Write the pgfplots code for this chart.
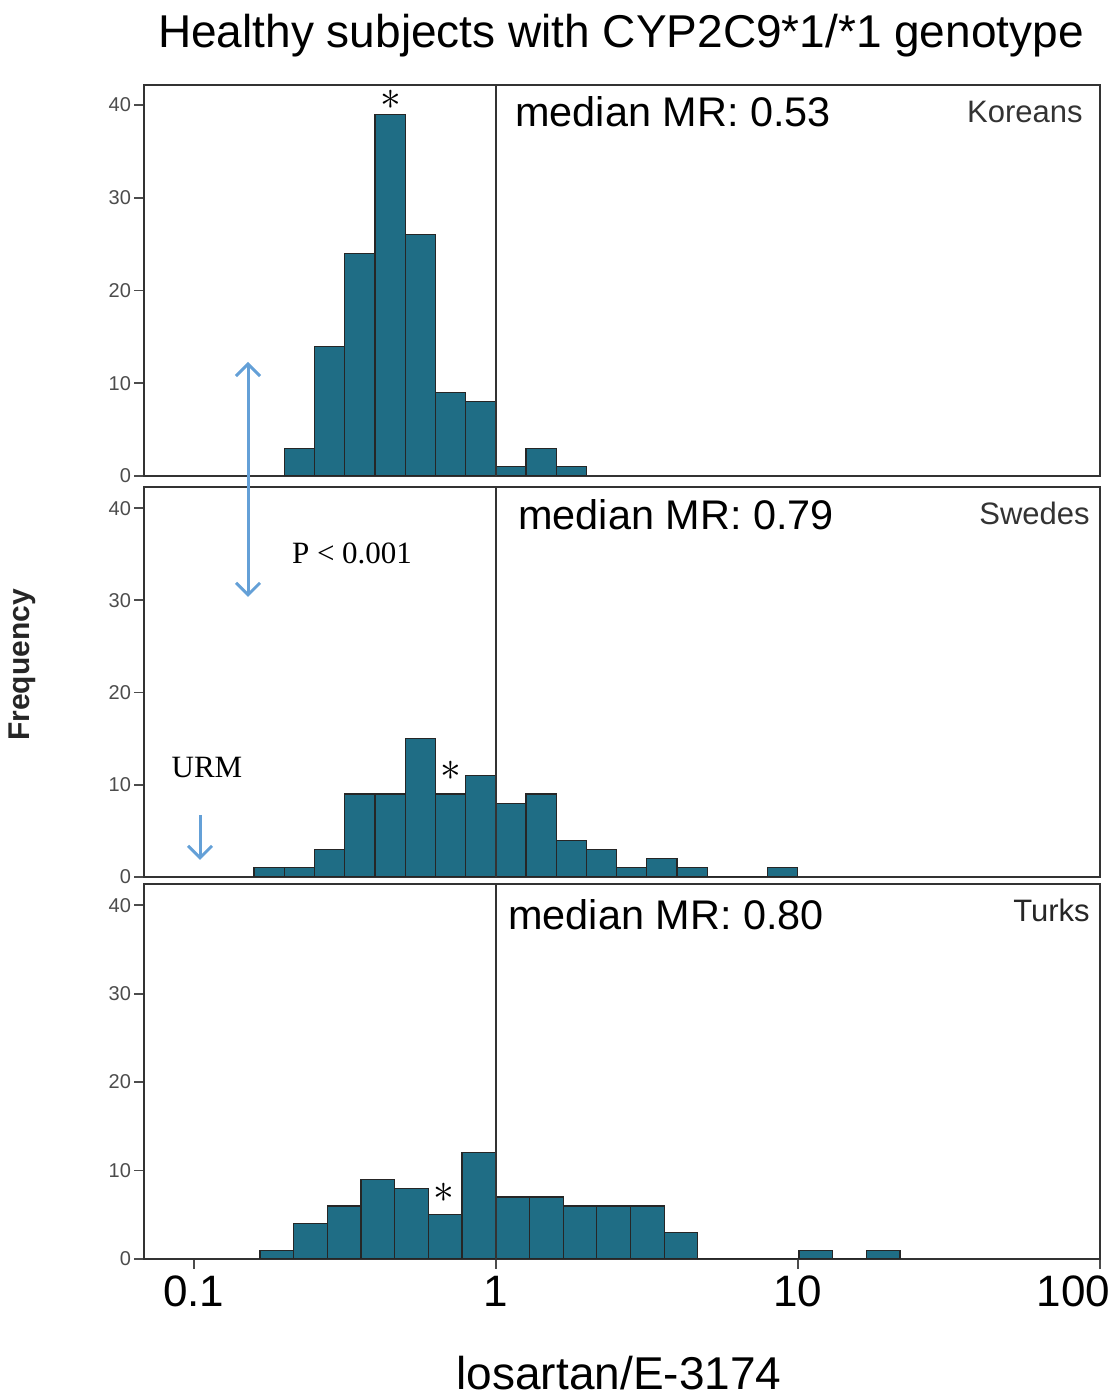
\documentclass[border=0pt]{standalone}
\usepackage{pgfplots}
\pgfplotsset{compat=1.18}
\usepackage{fontspec}
\setmainfont{Liberation Sans}
\newfontfamily\timesfont{Liberation Serif}
\usetikzlibrary{arrows.meta}
\definecolor{barteal}{RGB}{31,109,133}
\definecolor{arrowblue}{RGB}{100,160,215}
\pgfplotsset{
 panel/.style={
  scale only axis, width=478pt, xmin=0.0685, xmax=100, ymin=0,
  anchor=south west,
  ytick={0,10,20,30,40}, ytick pos=left, xtick pos=bottom, tick align=outside,
  major tick length=5pt, xminorticks=false, yminorticks=false,
  /pgf/number format/assume math mode=true,
  y tick label style={font=\fontsize{10}{10}\selectfont, text=black!70, xshift=2pt},
  axis line style={line width=1.1pt, draw=black!80},
  major tick style={line width=0.9pt, black!70},
 },
 bars/.style={ybar interval, fill=barteal, draw=black!85, line width=0.6pt},
 oneline/.style={black!80, line width=0.8pt, forget plot},
}
\begin{document}
\begin{tikzpicture}
\path[use as bounding box] (0,0) rectangle (557.5pt,699pt);
% top: Koreans
\begin{semilogxaxis}[panel, at={(72pt,461pt)}, height=195.5pt, ymax=42.15, xtick=\empty]
\addplot[bars] coordinates {(0.1995,3) (0.2512,14) (0.3162,24) (0.3981,39) (0.5012,26) (0.6310,9) (0.7943,8) (1,1) (1.2589,3) (1.5849,1) (1.9953,0)};
\addplot[oneline] coordinates {(1,0) (1,60)};
\node at (axis cs:0.45,40.6) {\fontsize{22}{22}\selectfont$\ast$};
\end{semilogxaxis}
% middle: Swedes
\begin{semilogxaxis}[panel, at={(72pt,260.5pt)}, height=195pt, ymax=42.3, xtick=\empty]
\addplot[bars] coordinates {(0.1585,1) (0.1995,1) (0.2512,3) (0.3162,9) (0.3981,9) (0.5012,15) (0.6310,9) (0.7943,11) (1,8) (1.2589,9) (1.5849,4) (1.9953,3) (2.5119,1) (3.1623,2) (3.9811,1) (5.0119,0) (6.3096,0) (7.9433,1) (10,0)};
\addplot[oneline] coordinates {(1,0) (1,60)};
\node at (axis cs:0.71,11.5) {\fontsize{22}{22}\selectfont$\ast$};
\end{semilogxaxis}
% bottom: Turks
\begin{semilogxaxis}[panel, at={(72pt,69.5pt)}, height=187.5pt, ymax=42.4,
  xtick={0.1,1,10,100}, xticklabels={0.1,1,10,\makebox[0pt][r]{100\hspace{-5pt}}},
  x tick label style={font=\fontsize{22}{22}\selectfont, text=black}]
\addplot[bars] coordinates {(0.16580,1) (0.21429,4) (0.27701,6) (0.35810,9) (0.46294,8) (0.59841,5) (0.77356,12) (1,7) (1.2927,7) (1.6711,6) (2.1602,6) (2.7925,6) (3.6099,3) (4.6666,0) (6.0325,0) (7.7983,0) (10.081,1) (13.032,0) (16.847,1) (21.777,0)};
\addplot[oneline] coordinates {(1,0) (1,60)};
\node at (axis cs:0.673,7.5) {\fontsize{22}{22}\selectfont$\ast$};
\end{semilogxaxis}
% annotations in pixel coordinates
\begin{scope}[x=0.5pt, y=-0.5pt, shift={(0,699pt)}]
\node[font=\fontsize{23}{23}\selectfont, anchor=base, inner sep=0pt] at (621,48) {Healthy subjects with CYP2C9*1/*1 genotype};
\node[font=\fontsize{20.7}{20.7}\selectfont, anchor=west, inner sep=0pt] at (515,112) {median MR: 0.53};
\node[font=\fontsize{20.7}{20.7}\selectfont, anchor=west, inner sep=0pt] at (518,515) {median MR: 0.79};
\node[font=\fontsize{20.7}{20.7}\selectfont, anchor=west, inner sep=0pt] at (508,915) {median MR: 0.80};
\node[font=\fontsize{15.5}{15.5}\selectfont, anchor=east, inner sep=0pt, text=black!80] at (1083,112) {Koreans};
\node[font=\fontsize{15.5}{15.5}\selectfont, anchor=east, inner sep=0pt, text=black!80] at (1090,513) {Swedes};
\node[font=\fontsize{15.5}{15.5}\selectfont, anchor=east, inner sep=0pt, text=black!85] at (1090,910) {Turks};
\node[font=\fontsize{15.5}{15.5}\selectfont\timesfont] at (352,553) {P < 0.001};
\node[font=\fontsize{15.5}{15.5}\selectfont\timesfont] at (207,768) {URM};
\node[font=\fontsize{15}{15}\selectfont\bfseries, rotate=90, text=black!85] at (22,665) {Frequency};
\node[font=\fontsize{23}{23}\selectfont, anchor=base, inner sep=0pt] at (619,1389) {losartan/E-3174};
\draw[arrowblue, line width=1.5pt, {Straight Barb[length=6pt,width=12pt]}-{Straight Barb[length=6pt,width=12pt]}] (248,362) -- (248,597);
\draw[arrowblue, line width=1.5pt, -{Straight Barb[length=6pt,width=12pt]}] (200,815) -- (200,860);
\end{scope}
\end{tikzpicture}
\end{document}
